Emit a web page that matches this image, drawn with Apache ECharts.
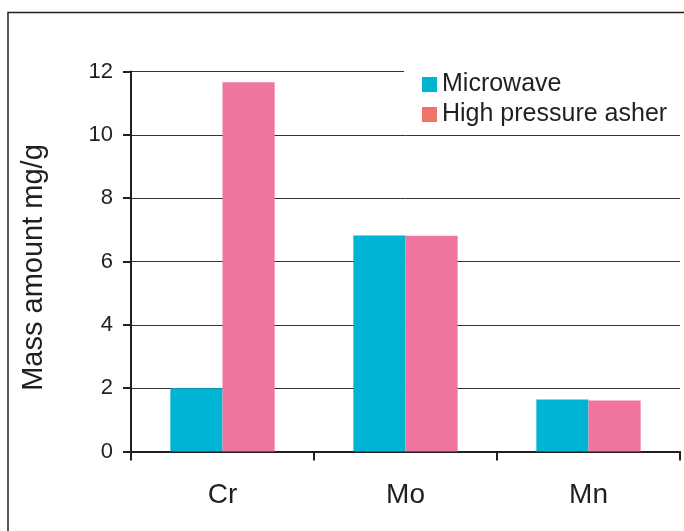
<!DOCTYPE html>
<html>
<head>
<meta charset="utf-8">
<script src="https://cdn.jsdelivr.net/npm/echarts@6/dist/echarts.min.js"></script>
<style>
html,body{margin:0;padding:0;background:#fff;}
#chart{width:684px;height:531px;}
</style>
</head>
<body>
<div id="chart"></div>
<script>
const categories = ['Cr', 'Mo', 'Mn'];
const microwave = [2.0, 6.82, 1.64];
const highPressureAsher = [11.66, 6.81, 1.61];
const yTicks = [0, 2, 4, 6, 8, 10, 12];
const seriesNames = ['Microwave', 'High pressure asher'];

const FONT = '"Liberation Sans", Arial, Helvetica, sans-serif';
const TXT = '#231f20';
const chart = echarts.init(document.getElementById('chart'), null, {renderer: 'canvas'});
chart.setOption({
  animation: false,
  backgroundColor: '#fff',
  graphic: [
    { type: 'polyline', z: 10, shape: { points: [[8, 540], [8, 12.5], [700, 12.5]] },
      style: { stroke: '#231f20', lineWidth: 1.5, fill: null } },
    { type: 'rect', z: 3, shape: { x: 404, y: 64, width: 278, height: 66 },
      style: { fill: '#fff' } }
  ],
  grid: { left: 131, right: 4, top: 71.5, bottom: 79.5, containLabel: false },
  legend: {
    orient: 'vertical', left: 417, top: 67, z: 5,
    itemWidth: 15, itemHeight: 15, itemGap: 5,
    icon: 'rect',
    textStyle: { fontFamily: FONT, fontSize: 25, color: TXT },
    data: [
      { name: seriesNames[0], itemStyle: { color: '#00B4D4' } },
      { name: seriesNames[1], itemStyle: { color: '#F07468' } }
    ]
  },
  xAxis: {
    type: 'category', data: categories,
    axisLine: { lineStyle: { color: TXT, width: 2 } },
    axisTick: { show: true, length: 9, lineStyle: { color: TXT, width: 2 } },
    axisLabel: { fontFamily: FONT, fontSize: 28, color: TXT, margin: 30 }
  },
  yAxis: {
    type: 'value', min: yTicks[0], max: yTicks[yTicks.length - 1], interval: 2,
    name: 'Mass amount mg/g', nameLocation: 'middle', nameGap: 83,
    nameTextStyle: { fontFamily: FONT, fontSize: 29, color: TXT, padding: [0, 0, 0, -12] },
    axisLine: { show: true, lineStyle: { color: TXT, width: 2 } },
    axisTick: { show: true, length: 8, lineStyle: { color: TXT, width: 2 } },
    axisLabel: { fontFamily: FONT, fontSize: 22, color: TXT, margin: 18 },
    splitLine: { show: true, lineStyle: { color: '#333', width: 1 } }
  },
  series: [
    { name: seriesNames[0], type: 'bar', data: microwave, barGap: '0%', barCategoryGap: '43%',
      itemStyle: { color: '#00B4D4' } },
    { name: seriesNames[1], type: 'bar', data: highPressureAsher, barGap: '0%', barCategoryGap: '43%',
      itemStyle: { color: '#F074A0' } }
  ]
});
</script>
</body>
</html>
